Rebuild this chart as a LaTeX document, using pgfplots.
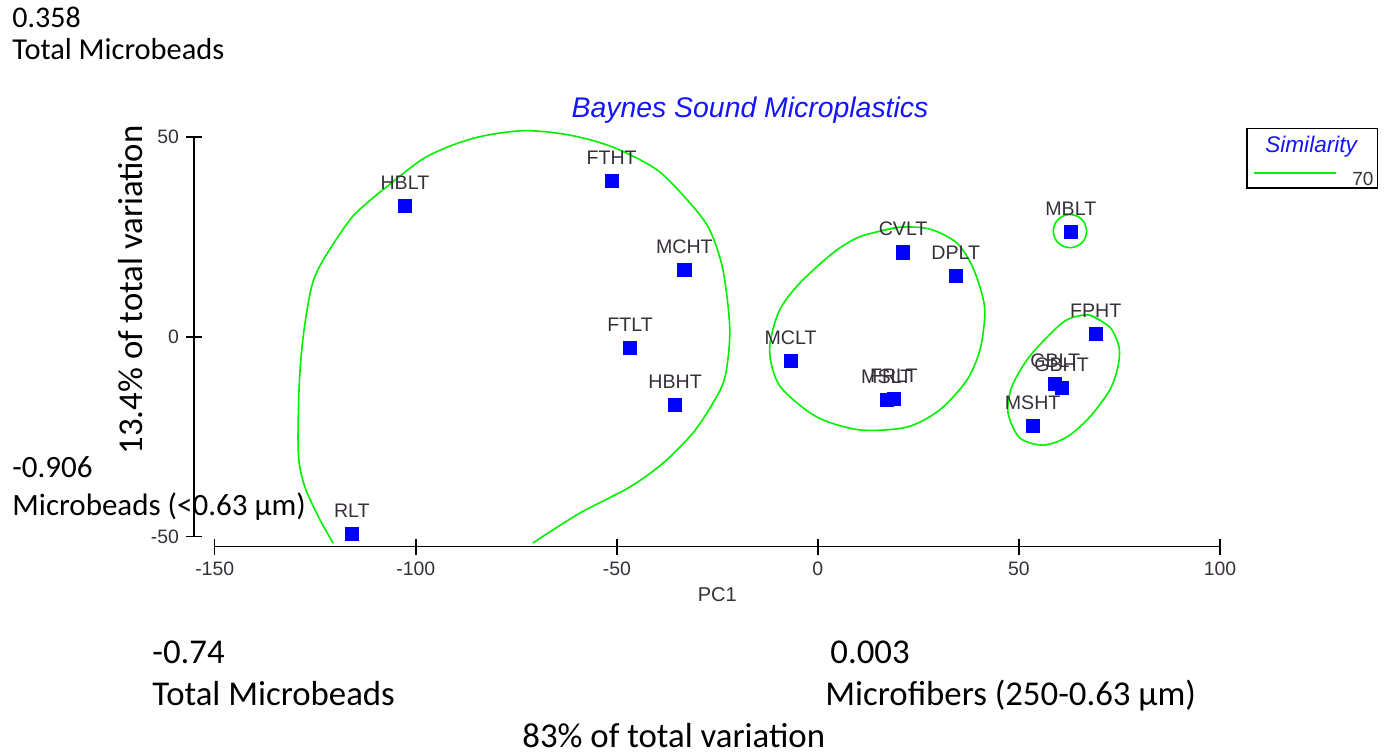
\documentclass[border=0pt]{standalone}
\usepackage{pgfplots}
\pgfplotsset{compat=1.18}
\usepackage{pgfplotstable}
\usepackage{fontspec}
\setmainfont{Liberation Sans}
\newfontfamily\calib{Carlito}
\definecolor{lblgray}{RGB}{55,48,58}
\definecolor{simgreen}{RGB}{0,240,0}
\definecolor{titleblue}{RGB}{20,20,255}

\pgfplotstableread{
x y label
-102.7 32.75 HBLT
-51.3 39.0 FTHT
-33.2 16.7 MCHT
-46.7 -2.75 FTLT
-35.5 -17.1 HBHT
-115.9 -49.25 RLT
21.2 21.1 CVLT
34.3 15.2 DPLT
-6.8 -6.0 MCLT
17.1 -15.8 MSLT
18.9 -15.6 FRLT
62.9 26.25 MBLT
69.1 0.7 FPHT
59.0 -11.8 GBLT
60.6 -12.75 GBHT
53.4 -22.25 MSHT
}\sites

\begin{document}
\begin{tikzpicture}
\begin{axis}[
  at={(0,0)}, anchor=south west,
  scale only axis, width=502.65pt, height=200pt,
  xmin=-150, xmax=100, ymin=-50, ymax=50,
  axis lines=left, axis line style={-, line width=0.8pt, black},
  axis x line shift=5pt, axis y line shift=10.35pt,
  xtick={-150,-100,-50,0,50,100}, ytick={-50,0,50},
  tick align=center, major tick length=8pt,
  tick style={line width=0.8pt, black},
  /pgf/number format/assume math mode=true,
  tick label style={font=\fontsize{9.7}{11}\selectfont, text=lblgray},
  clip=false,
  title={Baynes Sound Microplastics},
  every axis title/.style={at={(axis description cs:0.5325,1)}, anchor=base, yshift=9.85pt, font=\fontsize{14.2}{16}\selectfont\itshape, text=titleblue},
  xlabel={PC1},
  every axis x label/.style={at={(axis description cs:0.5,0)}, anchor=base, yshift=-32.5pt, font=\fontsize{10}{12}\selectfont, text=lblgray},
  ylabel={13.4\% of total variation},
  every axis y label/.style={at={(axis description cs:-0.0833,0.617)}, anchor=center, rotate=90, font=\calib\fontsize{17.4}{20}\selectfont},
  legend cell align=left,
  legend style={at={(axis description cs:1.0259,1.0218)}, anchor=north west, draw=black, line width=0.75pt,
    inner xsep=2pt, inner ysep=1.8pt, row sep=5.7pt, nodes={inner sep=2pt, text depth=0pt}, text=lblgray},
]
\addlegendimage{empty legend}
\addlegendentry{\hspace*{-37.5pt}{\color{titleblue}\itshape\fontsize{11.3}{13}\selectfont Similarity}}
\addlegendimage{legend image code/.code={\path (0pt,0pt); \draw[simgreen, line width=0.8pt] (1pt,1.5pt) -- (42pt,1.5pt);}}
\addlegendentry{\hspace*{6pt}\raisebox{-2.5pt}{\fontsize{9.5}{11}\selectfont 70}\hspace*{-2pt}}

% big cluster (open, runs past the bottom axis)
\addplot[simgreen, line width=0.8pt, smooth, forget plot] coordinates {
(-70.9,-51.6) (-59.2,-44.1) (-46.8,-37.6) (-38.5,-31.6) (-31.1,-24.1) (-26.1,-16.6)
(-23.1,-10.1) (-21.9,1.7) (-23.6,16.7) (-26.9,26.7) (-31.8,33.4) (-40.0,41.7)
(-51.0,47.4) (-61.7,50.4) (-73.3,51.5) (-85.7,49.6) (-97.3,45.0) (-107.2,37.5)
(-112.2,33.35) (-116.4,29.2) (-123.0,19.2) (-125.9,12.5) (-128.0,0) (-129.0,-12.5)
(-129.2,-29.15) (-127.6,-37.5) (-123.8,-45.8) (-120.5,-51.65)
};
% middle cluster
\addplot[simgreen, line width=0.8pt, smooth, forget plot] coordinates {
(14.7,26.2) (20.4,27.4) (27.9,26.9) (34.6,23.4) (38.5,17.4) (41.0,9.9) (41.5,4.9)
(40.3,-3.3) (37.1,-10.8) (30.3,-18.3) (22.1,-22.6) (10.4,-23.3) (-0.2,-20.1)
(-8.7,-13.3) (-11.4,-7.6) (-11.9,-1.6) (-9.5,6.7) (-4.5,13.4) (3.7,20.9) (9.7,24.7)
(14.7,26.2) (20.4,27.4)
};
% right cluster
\addplot[simgreen, line width=0.8pt, smooth, forget plot] coordinates {
(67.6,5.4) (72.6,2.4) (74.9,-2.6) (74.6,-7.6) (72.6,-13.3) (67.6,-20.1) (61.9,-25.1)
(56.0,-27.1) (50.2,-25.3) (47.3,-19.1) (48.2,-12.6) (52.0,-5.8) (57.0,-0.1) (61.9,4.2)
(67.6,5.4) (72.6,2.4)
};
% MBLT circle
\addplot[simgreen, line width=0.8pt, smooth, forget plot] coordinates {
(66.85,26.4) (66.29,28.48) (64.78,29.99) (62.7,30.55) (60.62,29.99) (59.11,28.48)
(58.55,26.4) (59.11,24.32) (60.62,22.81) (62.7,22.25) (64.78,22.81) (66.29,24.32)
(66.85,26.4) (66.29,28.48)
};

\addplot[only marks, mark=square*, mark size=3.3pt, mark options={draw=blue, fill=blue},
  nodes near coords, point meta=explicit symbolic, forget plot,
  every node near coord/.append style={anchor=base, yshift=8.3pt, inner sep=0pt,
    font=\fontsize{9.8}{11}\selectfont, text=lblgray}]
  table[x=x, y=y, meta=label] {\sites};
\end{axis}

\begin{scope}[shift={(-107.35pt,268.35pt)}, x=0.5pt, y=-0.5pt]
  \tikzset{ann/.style={anchor=base west, inner sep=0pt, text=black}}
  \node[ann, font=\calib\fontsize{15}{17}\selectfont] at (12,28) {0.358};
  \node[ann, font=\calib\fontsize{15.2}{17}\selectfont] at (12,60) {Total Microbeads};
  \node[ann, font=\calib\fontsize{15.5}{18}\selectfont] at (12,478) {-0.906};
  \node[ann, font=\calib\fontsize{15.5}{18}\selectfont] at (12,516) {Microbeads (<0.63 µm)};
  \node[ann, font=\calib\fontsize{17.4}{20}\selectfont] at (152,664) {-0.74};
  \node[ann, font=\calib\fontsize{17.4}{20}\selectfont] at (152,706) {Total Microbeads};
  \node[ann, font=\calib\fontsize{17.4}{20}\selectfont] at (830,664) {0.003};
  \node[ann, font=\calib\fontsize{17.4}{20}\selectfont] at (825,706) {Microfibers (250-0.63 µm)};
  \node[ann, font=\calib\fontsize{17.4}{20}\selectfont] at (522,748) {83\% of total variation};
  \pgfresetboundingbox
  \path[use as bounding box] (0,0) rectangle (1388,755);
\end{scope}
\end{tikzpicture}
\end{document}
